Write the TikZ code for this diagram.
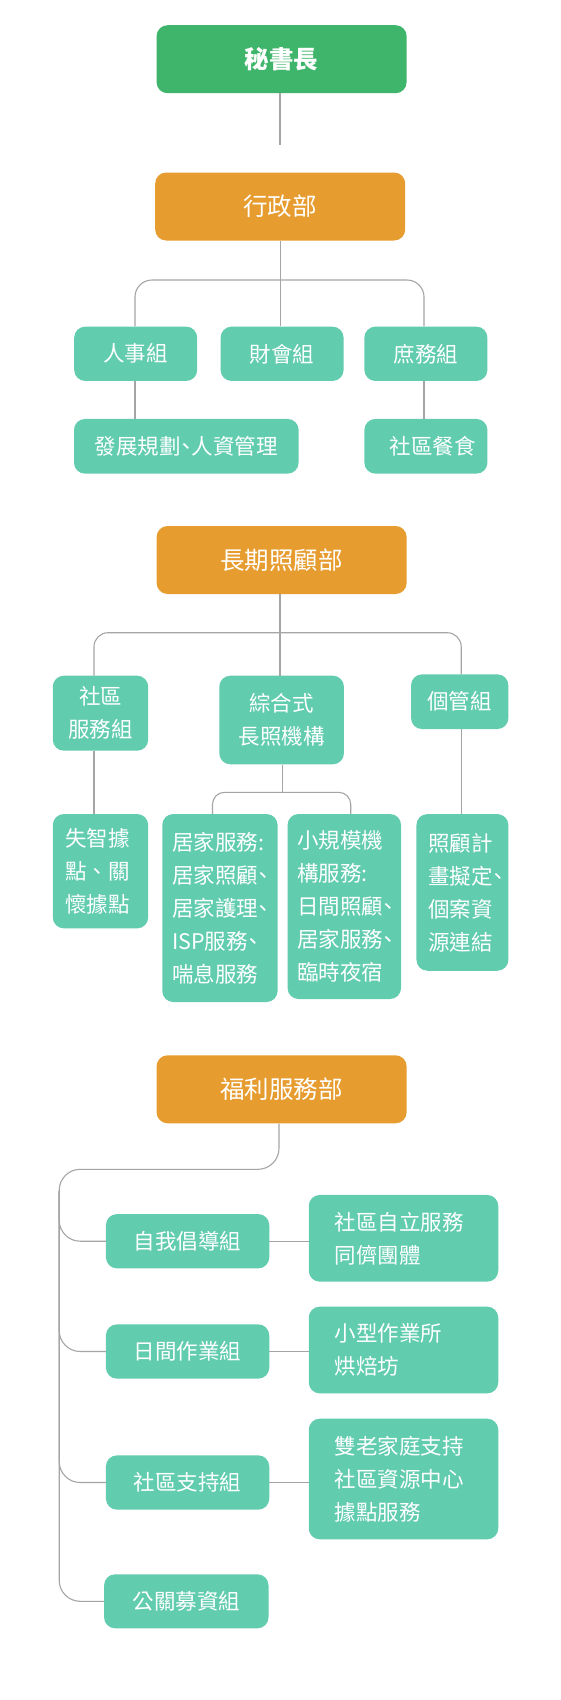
\documentclass[tikz,border=0pt]{standalone}
\usepackage{fontspec}
\newfontfamily\cjk{Noto Sans CJK TC}
\newfontfamily\cjkhalf{Noto Sans CJK TC}[RawFeature=+halt]
\newcommand\hdun{{\cjkhalf 、}}
\definecolor{topgreen}{HTML}{3EB56A}
\definecolor{deptorange}{HTML}{E79C2F}
\definecolor{unitteal}{HTML}{61CCAE}
\definecolor{linegray}{HTML}{A5A5A5}
\tikzset{
  box/.style={rounded corners=11pt, inner sep=0pt, text=white, font=\cjk\fontsize{21.5}{33}\selectfont},
  titlebox/.style={box, minimum width=250pt, minimum height=68pt},
  headbox/.style={titlebox, fill=topgreen, font=\cjk\bfseries\fontsize{24.5}{30}\selectfont},
  deptbox/.style={titlebox, fill=deptorange, font=\cjk\fontsize{24.5}{30}\selectfont},
  unitbox/.style={box, fill=unitteal, align=center},
  link/.style={draw=linegray, line width=1.1pt},
}
\begin{document}
\begin{tikzpicture}[x=1pt,y=-1pt]
\useasboundingbox (0,0) rectangle (560,1700);
\fill[white] (0,0) rectangle (560,1700);

% top
\node[headbox] (sec) at (281.6,59.2) {秘書長};
\coordinate (secend) at (280,145);
\draw[link] (sec.south -| secend) -- (secend);

% administration
\node[deptbox] (admin) at (280.2,206.5) {行政部};
\node[unitbox, minimum width=123pt, minimum height=54.3pt] (hr) at (135.7,353.8) {人事組};
\node[unitbox, minimum width=123pt, minimum height=54.3pt] (fin) at (282.1,353.8) {財會組};
\node[unitbox, minimum width=123pt, minimum height=54.3pt] (gen) at (425.9,353.8) {庶務組};
\node[unitbox, minimum width=224.6pt, minimum height=54.7pt] (plan) at (186.3,446.3) {發展規劃\hdun 人資管理};
\node[unitbox, minimum width=123pt, minimum height=54.7pt] (meal) at (425.9,446.3) {\hspace*{14pt}社區餐食};
\coordinate (adminbar) at (280,280);
\draw[link] (admin.south) -- (admin.south |- fin.north);
\draw[link, rounded corners=17pt] ([xshift=-0.7pt]hr.north) |- (adminbar) -| ([xshift=-1.9pt]gen.north);
\draw[link] ([xshift=-0.7pt]hr.south) -- ([xshift=-0.7pt]hr.south |- plan.north);
\draw[link] ([xshift=-1.9pt]gen.south) -- ([xshift=-1.9pt]gen.south |- meal.north);

% long-term care
\node[deptbox] (ltc) at (281.6,560) {長期照顧部};
\node[unitbox, minimum width=95.4pt, minimum height=75pt] (cs) at (100.5,713.2) {社區\\服務組};
\node[unitbox, minimum width=124.6pt, minimum height=88.6pt] (inst) at (281.6,720) {綜合式\\長照機構};
\node[unitbox, minimum width=97.3pt, minimum height=54.7pt] (cm) at (459.7,701.7) {個管組};
\coordinate (ltcbar) at (280,632.7);
\draw[link] (ltc.south -| ltcbar) -- (inst.north -| ltcbar);
\draw[link, rounded corners=14pt] ([xshift=-6.5pt]cs.north) |- (ltcbar) -| ([xshift=1.5pt]cm.north);

\node[unitbox, minimum width=95.4pt, minimum height=114.3pt, text width=70.4pt, align=left] (dem) at (100.5,871.2) {失智據\\點、關\\懷據點};
\node[unitbox, minimum width=115.3pt, minimum height=188pt, text width=95.3pt, align=left] (home) at (219.9,908) {居家服務:\\居家照顧\hdun\\居家護理\hdun\\ISP服務\hdun\\喘息服務};
\node[unitbox, minimum width=113.5pt, minimum height=185pt, text width=94.1pt, align=left] (small) at (344.3,906.5) {小規模機\\構服務:\\日間照顧\hdun\\居家服務\hdun\\臨時夜宿};
\node[unitbox, minimum width=91.9pt, minimum height=156.7pt, text width=68.3pt, align=left] (care) at (462.4,892.4) {照顧計\\畫擬定\hdun\\個案資\\源連結};
\coordinate (instbar) at (282.5,792.3);
\draw[link] ([xshift=-6.5pt]cs.south) -- ([xshift=-6.5pt]cs.south |- dem.north);
\draw[link] (inst.south -| instbar) -- (instbar);
\draw[link, rounded corners=12pt] ([xshift=-7.4pt]home.north) |- (instbar) -| ([xshift=6.4pt]small.north);
\draw[link] ([xshift=1.5pt]cm.south) -- ([xshift=1.5pt]cm.south |- care.north);

% welfare
\node[deptbox] (wel) at (281.6,1089.3) {福利服務部};
\node[unitbox, minimum width=163.3pt, minimum height=54.3pt] (self) at (187.6,1241.2) {自我倡導組};
\node[unitbox, minimum width=163.3pt, minimum height=54.3pt] (day) at (187.6,1351.5) {日間作業組};
\node[unitbox, minimum width=163.3pt, minimum height=54.3pt] (sup) at (187.6,1482.5) {社區支持組};
\node[unitbox, minimum width=164.4pt, minimum height=54pt] (pr) at (186.3,1601.3) {公關募資組};
\node[unitbox, minimum width=189.5pt, minimum height=86.7pt, text width=137.9pt, align=left] (selfR) at (403.5,1238.3) {社區自立服務\\同儕團體};
\node[unitbox, minimum width=189.5pt, minimum height=86.7pt, text width=137.9pt, align=left] (dayR) at (403.5,1350) {小型作業所\\烘焙坊};
\node[unitbox, minimum width=189.5pt, minimum height=120.6pt, text width=137.9pt, align=left] (supR) at (403.5,1479) {雙老家庭支持\\社區資源中心\\據點服務};
\coordinate (welbar) at (59.2,1169.3);
\coordinate (welv) at (59.2,1191);
\draw[link, rounded corners=21pt] ([xshift=-2.6pt]wel.south) |- (welbar) |- (pr.west);
\draw[link, rounded corners=21pt] (welv) |- (self.west);
\draw[link, rounded corners=21pt] (welv) |- (day.west);
\draw[link, rounded corners=21pt] (welv) |- (sup.west);
\draw[link] (self.east) -- (self.east -| selfR.west);
\draw[link] (day.east) -- (day.east -| dayR.west);
\draw[link] (sup.east) -- (sup.east -| supR.west);
\end{tikzpicture}
\end{document}
